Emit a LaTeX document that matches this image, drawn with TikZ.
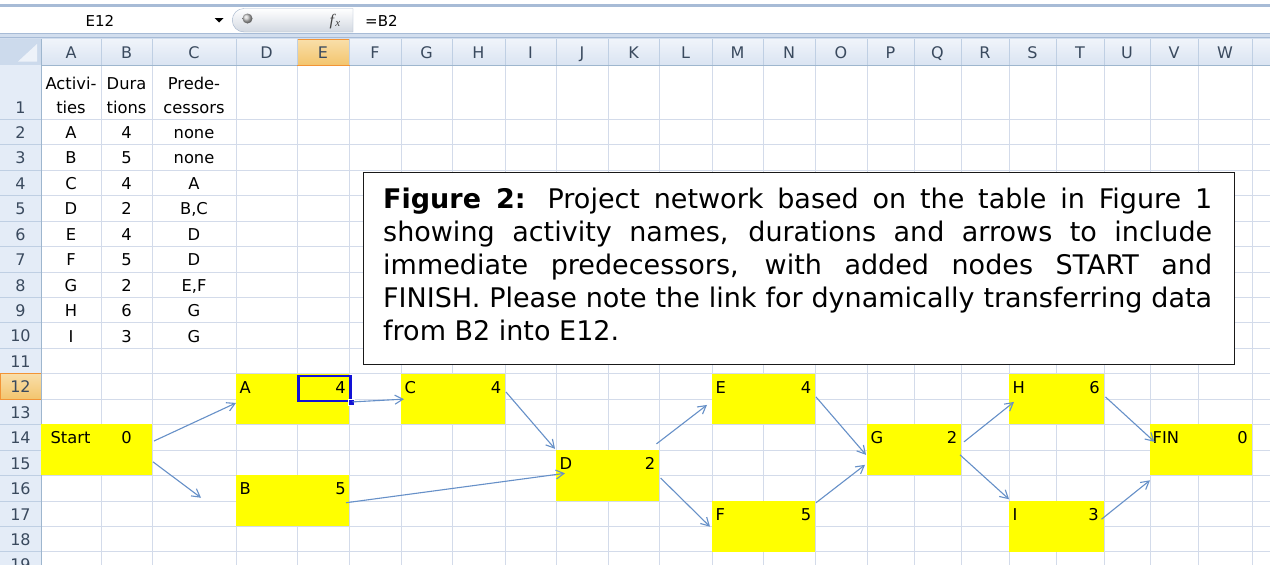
\documentclass[tikz,border=0pt]{standalone}
\usepackage{fontspec}
\setmainfont{DejaVu Sans}
\newfontfamily\notefont{DejaVu Sans}
\newfontfamily\fxfont{Liberation Serif}
\usetikzlibrary{arrows.meta,calc}

\definecolor{gridc}{HTML}{D3DBEA}
\definecolor{hdrtop}{HTML}{F0F4FA}
\definecolor{hdrbot}{HTML}{DAE4F2}
\definecolor{hdrfill}{HTML}{E4ECF7}
\definecolor{hdrline}{HTML}{9EB6CE}
\definecolor{hdrsep}{HTML}{BFCFE3}
\definecolor{hdrtext}{HTML}{3A4A5E}
\definecolor{seltop}{HTML}{F9DFAA}
\definecolor{selbot}{HTML}{F3C56E}
\definecolor{selline}{HTML}{F29436}
\definecolor{cellyellow}{HTML}{FFFF00}
\definecolor{arrowc}{HTML}{6690C8}
\definecolor{selblue}{HTML}{1212D6}
\definecolor{barline}{HTML}{A7BBD6}
\definecolor{barband}{HTML}{D2DEEE}
\definecolor{pillline}{HTML}{A3B4CB}
\definecolor{pillbot}{HTML}{D3D9E2}
\definecolor{cornerfill}{HTML}{CCDAEC}
\definecolor{cornertri}{HTML}{EDF2F9}

\begin{document}
\begin{tikzpicture}[x=1pt,y=-1pt,
  cell/.style={font=\fontsize{16.3}{19}\selectfont, text=black, inner sep=0, anchor=base},
  hdr/.style={font=\fontsize{16}{19}\selectfont, text=hdrtext, inner sep=0, anchor=base},
  ybox/.style={fill=cellyellow, anchor=north west, inner sep=0, outer sep=0, minimum height=50.9},
  lbl/.style={cell, anchor=base west},
  num/.style={cell, anchor=base east},
  arr/.style={draw=arrowc, line width=1.1pt, -{Straight Barb[length=8pt,width=9pt]}},
]
\useasboundingbox (0,0) rectangle (1270,565);
\fill[white] (0,0) rectangle (1270,565);

% ---------- formula bar ----------
\fill[barline] (0,3.5) rectangle (1270,6.5);
\fill[barband] (0,33) rectangle (1270,39);
\draw[barline, line width=1pt] (0,33.5) -- (1270,33.5);
\draw[barline, line width=0.8pt] (0,37.5) -- (1270,37.5);
\node[anchor=base, inner sep=0, font=\fontsize{15}{18}\selectfont] (namebox) at (100,26) {E12};
\fill[black] (214.5,18) -- (223.5,18) -- (219,22.5) -- cycle;
\path[draw=pillline, top color=white, bottom color=pillbot]
  (353,8.5) -- (244,8.5) arc[start angle=270, end angle=90, radius=11.75] -- (353,32) -- cycle;
\shade[ball color=gray!45] (247.5,18.5) circle (5);
\node[anchor=base, inner sep=0, text=black!75, font=\fxfont\fontsize{16}{18}\selectfont] (fx) at (335,25)
  {\textit{f}\kern-0.5pt\raisebox{-1.5pt}{\fontsize{11}{12}\selectfont\textit{x}}};
\node[anchor=base west, inner sep=0, font=\fontsize{15}{18}\selectfont] (formula) at (365,26) {=B2};

% ---------- sheet grid ----------
\foreach \xx in {41,101,152,236,297,349,401,452,505,556,608,659,712,763,815,867,914,961,1009,1056,1104,1150,1198,1252}
  \draw[gridc] (\xx,65) -- (\xx,565);
\foreach \k in {0,...,17}
  \draw[gridc] (41,{119+\k*25.45}) -- (1270,{119+\k*25.45});

% ---------- column headings ----------
\shade[top color=hdrtop, bottom color=hdrbot] (0,39) rectangle (1270,65);
\draw[hdrline] (0,65) -- (1270,65);
\shade[top color=seltop, bottom color=selbot] (297,39) rectangle (349,65);
\draw[selline] (297,39.5) rectangle (349,65);
\fill[cornerfill] (0,39) rectangle (41,65);
\fill[cornertri] (37,44) -- (37,61.5) -- (18,61.5) -- cycle;
\foreach \l/\a/\b in {A/41/101, B/101/152, C/152/236, D/236/297, E/297/349, F/349/401,
  G/401/452, H/452/505, I/505/556, J/556/608, K/608/659, L/659/712, M/712/763, N/763/815,
  O/815/867, P/867/914, Q/914/961, R/961/1009, S/1009/1056, T/1056/1104, U/1104/1150,
  V/1150/1198, W/1198/1252}
{
  \draw[hdrsep] (\b,39) -- (\b,65);
  \node[hdr] (col\l) at ({(\a+\b)/2},58.6) {\l};
}
\draw[hdrline] (41,39) -- (41,65);

% ---------- row headings ----------
\fill[hdrfill] (0,65) rectangle (41,565);
\foreach \k in {0,...,17}
  \draw[hdrsep] (0,{119+\k*25.45}) -- (41,{119+\k*25.45});
\shade[top color=seltop, bottom color=selbot] (0,373.5) rectangle (41,398.95);
\draw[selline] (0.5,373.5) rectangle (41,398.95);
\draw[hdrline] (41,65) -- (41,565);
\node[hdr] (row1) at (20.5,113.8) {1};
\foreach \n in {2,...,19}
  \node[hdr] (row\n) at (20.5,{119+(\n-2)*25.45+19.3}) {\n};

% ---------- activity table ----------
\node[cell] (headA1) at (71,89.5) {Activi-};
\node[cell] (headA2) at (71,113.5) {ties};
\node[cell] (headB1) at (126.5,89.5) {Dura};
\node[cell] (headB2) at (126.5,113.5) {tions};
\node[cell] (headC1) at (194,89.5) {Prede-};
\node[cell] (headC2) at (194,113.5) {cessors};
\foreach \n/\p/\q/\s in {2/A/4/none, 3/B/5/none, 4/C/4/A, 5/D/2/{B,C}, 6/E/4/D,
  7/F/5/D, 8/G/2/{E,F}, 9/H/6/G, 10/I/3/G}
{
  \node[cell] (act\n) at (71,{119+(\n-2)*25.45+19.5}) {\p};
  \node[cell] (dur\n) at (126.5,{119+(\n-2)*25.45+19.5}) {\q};
  \node[cell] (pre\n) at (194,{119+(\n-2)*25.45+19.5}) {\s};
}

% ---------- network boxes ----------
\node[ybox, minimum width=111] (start) at (41,424.4) {};
\node[cell] (startname) at (70.5,443.9) {Start};
\node[cell] (startdur) at (126.5,443.9) {0};

\node[ybox, minimum width=113] (A) at (236,373.5) {};
\node[lbl] (Aname) at (239.5,393) {A};
\node[num] (Adur) at (346,393) {4};

\node[ybox, minimum width=113] (B) at (236,475.3) {};
\node[lbl] (Bname) at (239.5,494.8) {B};
\node[num] (Bdur) at (346,494.8) {5};

\node[ybox, minimum width=104] (C) at (401,373.5) {};
\node[lbl] (Cname) at (404.5,393) {C};
\node[num] (Cdur) at (501.5,393) {4};

\node[ybox, minimum width=103] (D) at (556,449.85) {};
\node[lbl] (Dname) at (559.5,469.35) {D};
\node[num] (Ddur) at (655.5,469.35) {2};

\node[ybox, minimum width=103] (E) at (712,373.5) {};
\node[lbl] (Ename) at (715.5,393) {E};
\node[num] (Edur) at (811.5,393) {4};

\node[ybox, minimum width=103] (F) at (712,500.75) {};
\node[lbl] (Fname) at (715.5,520.25) {F};
\node[num] (Fdur) at (811.5,520.25) {5};

\node[ybox, minimum width=94] (G) at (867,424.4) {};
\node[lbl] (Gname) at (870.5,443.9) {G};
\node[num] (Gdur) at (957.5,443.9) {2};

\node[ybox, minimum width=95] (H) at (1009,373.5) {};
\node[lbl] (Hname) at (1012.5,393) {H};
\node[num] (Hdur) at (1100,393) {6};

\node[ybox, minimum width=95] (I) at (1009,500.75) {};
\node[lbl] (Iname) at (1012.5,520.25) {I};
\node[num] (Idur) at (1099,520.25) {3};

\node[ybox, minimum width=102] (FIN) at (1150,424.4) {};
\node[lbl] (FINname) at (1152.5,443.9) {FIN};
\node[num] (FINdur) at (1248,443.9) {0};

% ---------- active cell E12 ----------
\node[draw=selblue, line width=2.7pt, anchor=north west, inner sep=0,
  minimum width=51.5, minimum height=25] (sel) at (297.3,374.7) {};
\node[fill=selblue, draw=white, line width=0.6pt, inner sep=0,
  minimum width=6.5, minimum height=6.5] (handle) at (sel.south east) {};

% ---------- caption box ----------
\node[draw=black!90, line width=1.8pt, fill=white, anchor=north west, inner sep=0,
  minimum width=871, minimum height=192] (note) at (362.5,171.5) {};
\node[anchor=north west, inner sep=0, text width=829,
  font=\notefont\fontsize{27}{33}\selectfont] (notetext) at (383,186)
{\spaceskip=0pt\xspaceskip=0pt\rule{0pt}{22pt}%
\makebox[829pt][s]{\textbf{Figure 2:} Project network based on the table in Figure 1}\par
\makebox[829pt][s]{showing activity names, durations and arrows to include}\par
\makebox[829pt][s]{immediate predecessors, with added nodes START and}\par
\makebox[829pt][s]{FINISH. Please note the link for dynamically transferring data}\par
from B2 into E12.};

% ---------- precedence arrows ----------
\coordinate (sbend) at ($(B.west)+(-35,-3)$);
\draw[arr] ($(start.north east)+(2,16.6)$) -- ($(A.west)+(0,4)$);
\draw[arr] ($(start.east)+(1,12)$) -- (sbend);
\draw[arr] ($(handle.center)+(1,-0.5)$) -- ($(C.west)+(3,0.2)$);
\draw[arr] ($(C.north east)+(1,18.5)$) -- ($(D.north west)+(-1,-1)$);
\draw[arr] ($(B.east)+(-3,2)$) -- ($(D.west)+(9,-2)$);
\draw[arr] ($(D.north east)+(-2.5,-6)$) -- ($(E.west)+(-5,6)$);
\draw[arr] ($(D.east)+(1.6,2.7)$) -- ($(F.west)+(-2,0.5)$);
\draw[arr] ($(E.east)+(1,-2)$) -- ($(G.west)+(-1,5)$);
\draw[arr] ($(F.north east)+(1,2)$) -- ($(G.west)+(-2,15)$);
\draw[arr] ($(G.east)+(3,-8)$) -- ($(H.west)+(5,3)$);
\draw[arr] ($(G.east)+(-1,5)$) -- ($(I.north west)+(0,-1.5)$);
\draw[arr] ($(H.east)+(1.5,-2)$) -- ($(FIN.west)+(4.5,-8)$);
\draw[arr] ($(I.east)+(-2.5,-7)$) -- ($(FIN.south west)+(0,5)$);
\end{tikzpicture}
\end{document}
